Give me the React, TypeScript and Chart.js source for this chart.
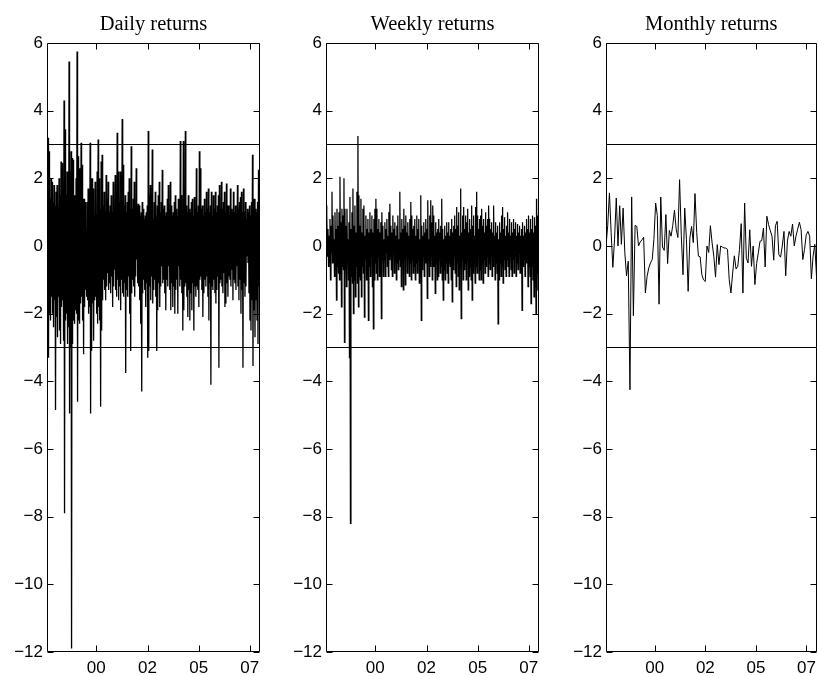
import React, { useEffect, useRef } from "react";
import { Chart, registerables } from "chart.js";

Chart.register(...registerables);

// ---------------- data ----------------
const panelTitles = ["Daily returns", "Weekly returns", "Monthly returns"];
const xTickLabels = ["00", "02", "05", "07"];
const xTickFractions = [0.231, 0.472, 0.712, 0.952];
const yMin = -12;
const yMax = 6;
const yStep = 2;
const thresholdLevels = [3, -3];

const dailyReturns = [
  2.9,-1.0,3.2,-3.3,2.8,-2.0,1.4,-2.2,2.0,-1.5,1.9,-2.0,1.3,-2.4,1.8,-1.6,1.2,-4.85,1.6,-2.1,
  1.8,-2.7,1.2,-1.5,2.0,-2.5,1.5,-2.9,2.5,-1.8,2.45,-1.6,1.6,-2.8,4.3,-7.9,3.45,-2.2,1.5,-2.0,
  2.2,-2.9,2.1,-2.4,5.45,-4.95,2.2,-3.0,2.8,-11.9,2.6,-2.9,2.55,-2.2,1.5,-2.3,1.5,-1.9,2.0,-2.0,
  5.75,-4.6,2.65,-2.2,2.3,-2.3,2.3,-1.7,3.05,-1.5,2.4,-2.2,1.4,-3.2,1.4,-1.8,1.3,-1.3,0.5,-1.5,
  1.3,-1.6,1.7,-2.0,1.6,-1.8,3.05,-4.95,2.0,-3.1,2.0,-1.7,1.7,-2.8,0.9,-1.6,1.9,-1.5,0.9,-2.0,
  2.2,-2.3,3.15,-1.8,2.0,-2.2,1.1,-4.75,2.5,-2.5,2.7,-1.6,1.2,-1.0,1.6,-1.3,1.0,-1.6,2.1,-1.2,
  1.4,-0.8,1.9,-1.3,1.0,-1.1,1.2,-1.4,1.5,-0.9,1.0,-1.8,1.9,-1.2,1.1,-0.7,2.1,-1.3,1.4,-1.5,
  3.35,-1.0,2.2,-1.6,1.3,-1.2,2.2,-1.9,1.5,-1.0,3.75,-1.4,2.4,-1.5,1.2,-1.1,1.5,-3.75,1.0,-1.3,
  1.3,-1.5,1.6,-0.9,2.0,-2.0,1.1,-3.1,2.95,-1.4,1.1,-1.0,1.4,-1.2,1.9,-1.5,1.0,-0.9,2.3,-0.4,
  1.2,-1.1,1.25,-1.2,1.2,-1.6,0.9,-2.3,1.0,-4.3,1.3,-1.4,1.1,-1.0,0.8,-1.3,0.9,-1.8,1.0,-1.1,
  1.2,-3.3,3.4,-3.1,1.5,-1.2,1.8,-1.6,1.0,-0.9,2.85,-1.7,0.8,-1.3,1.3,-1.0,1.6,-1.5,0.9,-3.1,
  1.2,-1.9,1.5,-1.1,1.9,-1.8,1.0,-1.2,1.3,-0.6,2.25,-1.1,1.1,-1.0,1.2,-1.4,0.9,-1.9,1.0,-1.0,
  1.4,-1.2,1.8,-0.6,1.1,-1.3,1.9,-1.9,1.2,-1.1,0.9,-1.8,1.0,-1.2,1.3,-2.0,1.5,-1.3,1.1,-1.0,
  0.9,-2.0,1.4,-0.6,1.2,-1.2,3.1,-1.0,1.5,-1.4,1.1,-2.5,3.1,-1.9,1.3,-1.2,3.4,-1.1,1.2,-1.5,
  1.0,-2.1,1.5,-1.3,1.1,-2.2,1.0,-1.4,1.3,-1.9,1.4,-1.1,0.9,-2.5,1.45,-1.2,1.1,-1.5,2.3,-1.2,
  1.0,-1.3,1.2,-1.8,2.8,-1.0,2.3,-0.9,1.1,-1.3,1.2,-2.1,0.9,-1.4,1.4,-1.0,1.0,-1.2,1.6,-0.9,
  1.1,-1.5,1.7,-2.2,1.0,-1.1,1.2,-4.1,1.6,-1.2,0.9,-1.3,1.5,-1.0,1.1,-1.4,1.6,-1.7,1.0,-1.3,
  1.2,-0.9,1.5,-3.6,1.8,-1.1,1.1,-1.0,1.9,-1.2,1.1,-1.4,1.3,-0.8,1.6,-1.8,1.0,-1.7,1.85,-1.1,
  1.2,-1.5,1.2,-0.9,0.9,-1.0,1.7,-1.2,1.1,-0.7,1.0,-1.6,1.6,-1.0,1.0,-1.1,1.2,-1.3,0.9,-0.6,
  1.8,-1.2,1.1,-1.6,1.3,-1.0,1.45,-2.0,1.6,-1.3,1.0,-3.6,1.7,-1.1,1.0,-1.5,1.3,-1.2,0.8,-0.3,
  1.1,-0.5,1.0,-1.4,1.2,-2.2,0.9,-2.5,1.3,-1.6,2.7,-3.55,1.4,-1.9,1.4,-2.7,1.1,-1.6,1.0,-2.2,
  1.3,-2.9,2.25,-1.2,2.2,-2.1,
];

const weeklyReturns = [
  1.2,0.4,0.9,-0.3,0.5,-0.6,0.3,-0.5,0.8,-1.0,0.6,-0.2,1.6,-0.5,0.9,-0.4,0.2,-0.9,1.0,-0.3,
  0.5,-1.6,1.1,-0.6,0.6,-0.8,1.0,-1.0,2.05,-0.8,0.7,-1.8,1.1,-0.6,0.9,-0.7,2.0,-2.85,1.1,-0.7,
  0.6,-1.2,1.1,-0.4,0.2,-1.0,0.7,-3.3,1.45,-8.2,0.5,-0.9,1.0,-1.1,1.7,-2.0,0.6,-1.0,1.2,-1.5,
  0.4,-0.6,1.6,-1.1,3.25,-1.8,1.5,-0.9,0.6,-1.0,1.4,-1.5,0.4,-0.6,1.1,-0.8,1.2,-2.1,0.3,-0.4,
  0.9,-1.0,0.5,-0.7,0.8,-2.2,0.4,-0.6,1.0,-0.9,0.5,-0.3,0.9,-1.2,0.4,-2.45,0.8,-1.0,1.1,-0.5,
  1.4,-0.8,1.1,-1.0,0.5,-0.3,0.8,-0.9,0.4,-0.6,0.7,-2.15,1.0,-0.4,0.6,-0.9,0.2,-0.4,0.7,-0.9,
  0.5,-0.2,0.8,-0.6,0.3,-0.9,1.0,-0.4,1.25,-0.3,0.6,-0.7,0.4,-0.9,0.9,-0.2,0.5,-0.8,0.7,-0.4,
  0.3,-1.0,0.6,-0.5,0.9,-0.7,0.2,-0.4,1.6,-0.6,0.4,-1.2,0.8,-0.5,0.5,-1.3,1.1,-0.3,0.6,-1.15,
  0.9,-0.2,0.4,-0.8,0.7,-0.3,0.3,-0.9,0.8,-0.5,1.3,-1.0,0.9,-0.4,0.5,-0.8,0.6,-0.6,0.8,-1.0,
  0.3,-0.5,0.9,-0.8,0.5,-0.4,0.8,-1.1,0.2,-0.9,1.5,-2.2,0.6,-0.7,0.3,-0.3,0.7,-0.9,0.4,-0.5,
  0.8,-0.2,0.5,-1.55,1.35,-0.4,0.2,-0.9,0.9,-0.6,1.35,-0.3,0.7,-1.0,1.2,-0.6,0.9,-0.4,0.3,-1.4,
  0.7,-0.5,0.4,-1.0,0.5,-0.9,0.8,-0.4,0.4,-0.8,0.6,-0.6,1.4,-1.0,0.5,-1.6,0.2,-0.7,0.6,-1.0,
  0.3,-0.5,0.7,-0.8,0.4,-1.1,0.7,-0.5,0.3,-0.6,0.5,-1.0,0.8,-1.65,0.4,-0.7,0.6,-0.3,0.9,-0.8,
  0.5,-1.2,1.15,-0.5,0.6,-0.9,1.0,-1.3,0.3,-0.6,1.7,-2.15,0.4,-0.4,0.9,-1.0,1.15,-0.7,0.5,-0.5,
  0.9,-1.0,0.7,-0.4,1.1,-1.3,0.4,-0.9,0.8,-0.6,0.5,-1.0,1.2,-1.6,0.6,-0.8,0.9,-0.5,0.3,-1.1,
  1.15,-0.6,1.6,-0.8,0.9,-0.3,0.5,-1.0,0.8,-0.7,0.9,-1.0,1.1,-0.5,0.6,-1.1,0.8,-0.4,0.4,-0.8,
  1.0,-0.6,0.6,-0.3,0.8,-0.9,1.2,-0.5,0.8,-0.7,0.5,-0.3,0.7,-0.9,0.4,-0.6,1.2,-0.3,0.3,-1.0,
  0.7,-0.5,0.4,-0.8,0.6,-2.3,0.2,-1.0,0.7,-0.5,0.4,-0.9,0.9,-0.6,1.15,-1.1,0.5,-0.4,0.85,-0.7,
  0.3,-0.9,0.6,-0.4,1.0,-0.6,0.4,-0.9,0.8,-0.3,0.3,-0.7,0.7,-0.9,0.4,-0.4,0.8,-0.8,0.5,-0.3,
  0.7,-0.9,0.3,-0.5,0.65,-0.7,0.4,-0.2,0.6,-0.8,0.3,-0.5,0.5,-1.9,0.7,-0.6,0.3,-0.4,0.6,-0.9,
  0.4,-0.5,0.8,-0.3,0.5,-1.2,0.9,-0.6,0.4,-0.9,0.8,-1.7,0.5,-0.6,0.9,-1.0,0.4,-1.5,0.85,-1.2,
  0.6,-2.0,1.4,-0.8,0.9,-1.3,1.4,0.3,
];

const monthlyReturns = [
  0.0, 0.6, 1.57, 0.4, -0.63, 0.2, 1.42, 0.0, 1.19, 0.05,
  1.12, -0.2, -0.88, -0.45, -4.25, 1.45, -2.06, 0.61, 0.58, 0.0,
  0.12, 0.18, 0.26, -1.39, -0.9, -0.65, -0.5, -0.4, 0.2, 1.27,
  0.9, -1.72, 1.45, -0.03, -0.13, 0.93, -0.52, 0.46, 0.29, 0.6,
  1.06, 0.5, 0.25, 1.96, 0.3, -0.85, 1.12, 0.2, -1.34, 0.24,
  0.58, 0.1, 1.55, 0.4, -0.3, -0.32, -0.85, -1.0, -1.05, 0.0,
  -0.19, 0.6, 0.09, -0.3, -0.92, 0.04, -0.55, 0.0, -0.03, -0.06,
  -0.06, -0.1, -1.0, -1.39, -0.8, -0.29, -0.68, -0.6, -0.1, 0.66,
  -1.39, 1.27, -0.36, -0.5, 0.48, -0.6, 0.0, -1.14, -0.52, -0.2,
  0.14, 0.16, 0.53, -0.62, 0.88, 0.63, 0.45, 0.29, -0.42, 0.6,
  0.73, -0.26, -0.33, 0.0, 0.43, -0.88, 0.15, 0.43, 0.29, 0.65,
  0.0, 0.29, 0.5, 0.7, 0.48, -0.4, -0.1, 0.33, 0.43, 0.29,
  -0.97, -0.3, 0.05, -0.9,
];

// ---------------- layout / style ----------------
const CANVAS_H = 676;
const PLOT_TOP = 43;
const X_AXIS_H = 24;
const Y_AXIS_W = 47;
const TICK_FONT = "'Liberation Sans', Arial, Helvetica, sans-serif";
const TITLE_FONT = "20.5px 'Liberation Serif', 'Times New Roman', serif";

const fmtY = (v: number) => (v < 0 ? "\u2212" + Math.abs(v) : String(v));

function makeDecorPlugin(title: string) {
  return {
    id: "panelDecor",
    afterDraw(chart: any) {
      const { ctx, chartArea } = chart;
      const xs = chart.scales.x;
      const ys = chart.scales.y;
      const L = Math.round(chartArea.left) + 0.5;
      const R = Math.round(chartArea.right) - 0.5;
      const T = Math.round(chartArea.top) + 0.5;
      const B = Math.round(chartArea.bottom) - 0.5;
      const len = 6;
      ctx.save();
      ctx.strokeStyle = "#000";
      ctx.lineWidth = 1;
      ctx.beginPath();
      ctx.rect(L, T, R - L, B - T);
      xs.ticks.forEach((t: any) => {
        const px = Math.round(xs.getPixelForValue(t.value)) + 0.5;
        ctx.moveTo(px, B);
        ctx.lineTo(px, B - len);
        ctx.moveTo(px, T);
        ctx.lineTo(px, T + len);
      });
      ys.ticks.forEach((t: any) => {
        const py = Math.round(ys.getPixelForValue(t.value)) + 0.5;
        ctx.moveTo(L, py);
        ctx.lineTo(L + len, py);
        ctx.moveTo(R, py);
        ctx.lineTo(R - len, py);
      });
      ctx.stroke();
      ctx.font = TITLE_FONT;
      ctx.fillStyle = "#000";
      ctx.textAlign = "center";
      ctx.textBaseline = "alphabetic";
      ctx.fillText(title, (chartArea.left + chartArea.right) / 2, 30);
      ctx.restore();
    },
  };
}

type PanelProps = {
  values: number[];
  title: string;
  left: number;
  width: number;
  padRight: number;
  lineWidth: number;
};

function Panel({ values, title, left, width, padRight, lineWidth }: PanelProps) {
  const ref = useRef<HTMLCanvasElement | null>(null);

  useEffect(() => {
    const canvas = ref.current;
    if (!canvas) return;
    const xMax = values.length - 1;
    const series = values.map((y, i) => ({ x: i, y }));
    const thresholdSets = thresholdLevels.map((level) => ({
      data: [
        { x: 0, y: level },
        { x: xMax, y: level },
      ],
      borderColor: "#000",
      borderWidth: 1,
      pointRadius: 0,
      fill: false,
      tension: 0,
    }));

    const chart = new Chart(canvas, {
      type: "line",
      data: {
        datasets: [
          {
            data: series,
            borderColor: "#000",
            borderWidth: lineWidth,
            pointRadius: 0,
            fill: false,
            tension: 0,
          },
          ...thresholdSets,
        ],
      },
      options: {
        animation: false,
        responsive: false,
        maintainAspectRatio: false,
        devicePixelRatio: 1,
        parsing: false,
        normalized: true,
        events: [],
        layout: { padding: { top: PLOT_TOP, right: padRight, bottom: 0, left: 0 } },
        plugins: {
          legend: { display: false },
          tooltip: { enabled: false },
          title: { display: false },
        },
        scales: {
          x: {
            type: "linear",
            min: 0,
            max: xMax,
            grid: { display: false, drawTicks: false },
            border: { display: false },
            afterBuildTicks: (s: any) => {
              s.ticks = xTickFractions.map((f) => ({ value: f * xMax }));
            },
            afterFit: (s: any) => {
              s.height = X_AXIS_H;
            },
            ticks: {
              autoSkip: false,
              maxRotation: 0,
              minRotation: 0,
              padding: 6,
              color: "#000",
              font: { family: TICK_FONT, size: 17 },
              callback: (_v: any, i: number) => xTickLabels[i],
            },
          },
          y: {
            type: "linear",
            min: yMin,
            max: yMax,
            grid: { display: false, drawTicks: false },
            border: { display: false },
            afterFit: (s: any) => {
              s.width = Y_AXIS_W;
            },
            ticks: {
              stepSize: yStep,
              padding: 4,
              color: "#000",
              font: { family: TICK_FONT, size: 17 },
              callback: (v: any) => fmtY(Number(v)),
            },
          },
        },
      } as any,
      plugins: [makeDecorPlugin(title)],
    });
    return () => chart.destroy();
  }, [values, title, padRight, lineWidth]);

  return (
    <canvas
      ref={ref}
      width={width}
      height={CANVAS_H}
      style={{ position: "absolute", left, top: 0, width, height: CANVAS_H }}
    />
  );
}

export default function App() {
  return (
    <div
      style={{
        position: "absolute",
        left: 0,
        top: 0,
        width: 822,
        height: 676,
        background: "#fff",
        overflow: "hidden",
      }}
    >
      <Panel values={dailyReturns} title={panelTitles[0]} left={0} width={270} padRight={10} lineWidth={1.3} />
      <Panel values={weeklyReturns} title={panelTitles[1]} left={279} width={270} padRight={10} lineWidth={1.25} />
      <Panel values={monthlyReturns} title={panelTitles[2]} left={559} width={263} padRight={3} lineWidth={1} />
    </div>
  );
}
